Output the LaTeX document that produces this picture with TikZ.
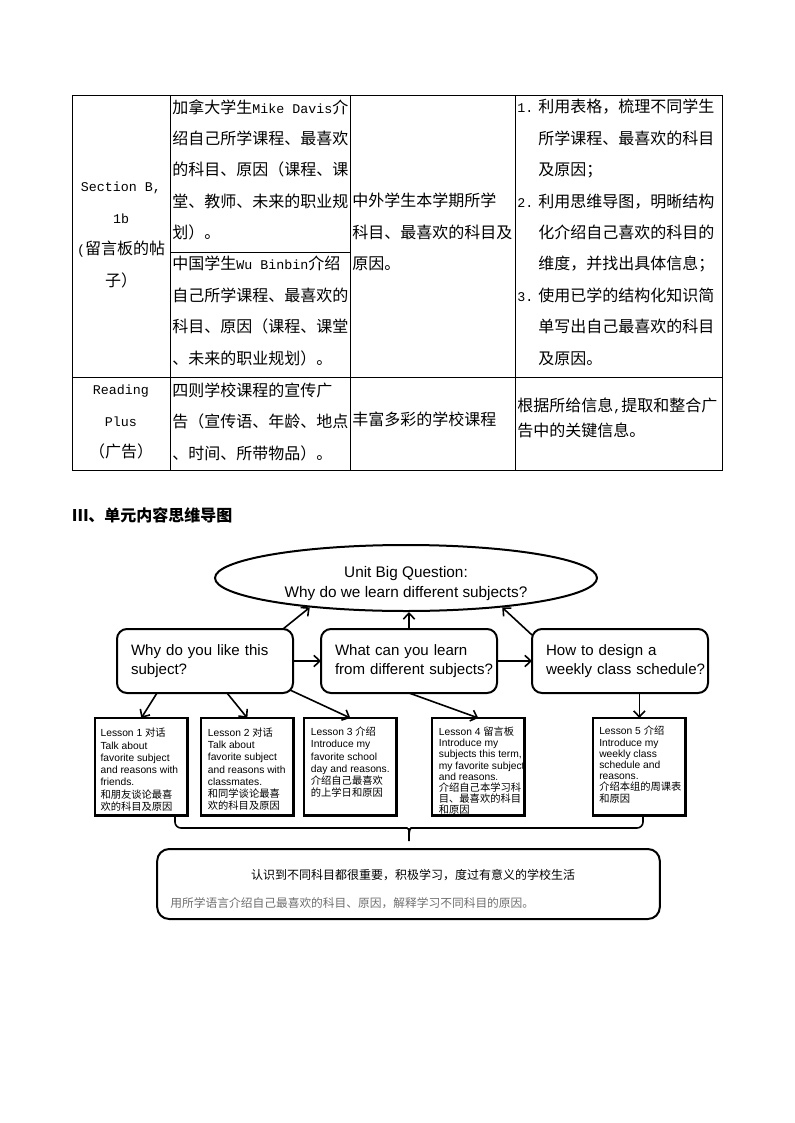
\documentclass[tikz,border=0pt]{standalone}
\usepackage{fontspec}
\usepackage{xcolor}
\usepackage{tikz}
\usetikzlibrary{arrows.meta, positioning, shapes.geometric}

\setmainfont{Liberation Sans}
\newfontfamily\cjk{Noto Sans CJK SC}
\newfontfamily\tmono{Liberation Mono}
\newcommand{\tabmono}[1]{{\tmono\fontsize{10}{23.55}\selectfont #1}}

\definecolor{notegray}{HTML}{6E6E6E}

\begin{document}
\begin{tikzpicture}[
    x=0.75pt, y=-0.75pt,
    grid/.style={line width=0.75pt},
    cell/.style={anchor=north west, inner sep=0pt, align=left, font=\cjk\fontsize{12}{23.55}\selectfont},
    headcell/.style={cell, anchor=north, align=center},
    bigq/.style={ellipse, draw, line width=1.5pt, minimum width=286.5pt, minimum height=49.5pt, inner sep=0pt},
    bigqtext/.style={inner sep=0pt, align=center, font=\fontsize{11.5}{15}\selectfont},
    question/.style={draw, line width=1.5pt, rounded corners=7.5pt, minimum width=132pt, minimum height=48pt, text width=111pt, inner xsep=10.5pt, outer sep=0pt, align=left, font=\fontsize{11.3}{14.25}\selectfont},
    lesson/.style={draw, line width=1.8pt, anchor=north west, minimum width=69.5pt, minimum height=73pt, inner sep=0pt, outer sep=0pt},
    lessontext/.style={inner sep=0pt, align=left, font=\fontsize{7.7}{9.2}\selectfont},
    final/.style={draw, line width=1.5pt, rounded corners=9pt, minimum width=377pt, minimum height=52.5pt, inner sep=0pt},
    arrow/.style={-{Straight Barb[length=4.5pt, width=8.5pt]}, line width=1.2pt},
    bracket/.style={line width=1.2pt, rounded corners=4.5pt},
]
\useasboundingbox (0,0) rectangle (794,1123);

% === Table ===
\draw[grid] (72,96) rectangle (722,470);
\draw[grid] (170,96) -- (170,470);
\draw[grid] (350,96) -- (350,470);
\draw[grid] (515,96) -- (515,470);
\draw[grid] (72,377) -- (722,377);
\draw[grid] (170,252) -- (350,252);

\node[headcell] (secb) at (121,182) {\tabmono{Section B,}\\\tabmono{1b}\\\tabmono{(}留言板的帖\\子）};
\node[cell] (mike) at (172,99) {加拿大学生\tabmono{Mike Davis}介\\绍自己所学课程、最喜欢\\的科目、原因（课程、课\\堂、教师、未来的职业规\\划）。};
\node[cell] (wubin) at (172,256) {中国学生\tabmono{Wu Binbin}介绍\\自己所学课程、最喜欢的\\科目、原因（课程、课堂\\、未来的职业规划）。};
\node[cell] (theme) at (352,193) {中外学生本学期所学\\科目、最喜欢的科目及\\原因。};
\node[cell] (goals) at (517,99) {\tabmono{1.}\hspace*{3.75pt}利用表格，梳理不同学生\\\hspace*{15.75pt}所学课程、最喜欢的科目\\\hspace*{15.75pt}及原因；\\\tabmono{2.}\hspace*{3.75pt}利用思维导图，明晰结构\\\hspace*{15.75pt}化介绍自己喜欢的科目的\\\hspace*{15.75pt}维度，并找出具体信息；\\\tabmono{3.}\hspace*{3.75pt}使用已学的结构化知识简\\\hspace*{15.75pt}单写出自己最喜欢的科目\\\hspace*{15.75pt}及原因。};

\node[headcell] (readp) at (121,385) {\tabmono{Reading}\\\tabmono{Plus}\\（广告）};
\node[cell] (ads) at (172,382.5) {四则学校课程的宣传广\\告（宣传语、年龄、地点\\、时间、所带物品）。};
\node[cell] (rich) at (352,411.5) {丰富多彩的学校课程};
\node[cell, font=\cjk\fontsize{12}{18.5}\selectfont] (keyinfo) at (517,397.5) {根据所给信息\tabmono{,}提取和整合广\\告中的关键信息。};

% === Mind map ===
\node[anchor=west, inner sep=0pt, font=\cjk\bfseries\fontsize{12}{14}\selectfont] (sec3) at (72,515) {Ⅲ、单元内容思维导图};

\node[bigq] (bigq) at (406,578) {};
\node[bigqtext] (bigqt) at (406,584) {Unit Big Question:\\Why do we learn different subjects?};

\node[question] (why) at (205,661) {Why do you like this\\subject?};
\node[question, right=21pt of why] (what) {What can you learn\\\mbox{from different subjects?}};
\node[question, right=26.25pt of what] (how) {How to design a\\\mbox{weekly class schedule?}};

\draw[arrow] ([xshift=-7.5pt]why.north east) -- (bigq.197);
\draw[arrow] (what.north) -- (what.north |- bigq.south);
\draw[arrow] ([yshift=-4.5pt]how.north west) -- (bigq.343);
\draw[arrow] (why) -- (what);
\draw[arrow] (what) -- (how);

\node[lesson] (l1) at (95,718) {};
\node[lesson] (l2) at (201,718) {};
\node[lesson] (l3) at (304,718) {};
\node[lesson] (l4) at (432,718) {};
\node[lesson] (l5) at (593,718) {};

\node[lessontext, below right=7.5pt and 4pt of l1.north west] (l1t) {Lesson 1 {\cjk 对话}\\Talk about\\favorite subject\\and reasons with\\friends.\\{\cjk 和朋友谈论最喜}\\{\cjk 欢的科目及原因}};
\node[lessontext, below right=7pt and 5pt of l2.north west] (l2t) {Lesson 2 {\cjk 对话}\\Talk about\\favorite subject\\and reasons with\\classmates.\\{\cjk 和同学谈论最喜}\\{\cjk 欢的科目及原因}};
\node[lessontext, below right=6.5pt and 5pt of l3.north west] (l3t) {Lesson 3 {\cjk 介绍}\\Introduce my\\favorite school\\day and reasons.\\{\cjk 介绍自己最喜欢}\\{\cjk 的上学日和原因}};
\node[lessontext, font=\fontsize{7.7}{8.4}\selectfont, below right=6.5pt and 5pt of l4.north west] (l4t) {Lesson 4 {\cjk 留言板}\\Introduce my\\subjects this term,\\my favorite subject\\and reasons.\\{\cjk 介绍自己本学习科}\\{\cjk 目、最喜欢的科目}\\{\cjk 和原因}};
\node[lessontext, font=\fontsize{7.7}{8.4}\selectfont, below right=6pt and 4.5pt of l5.north west] (l5t) {Lesson 5 {\cjk 介绍}\\Introduce my\\weekly class\\schedule and\\reasons.\\{\cjk 介绍本组的周课表}\\{\cjk 和原因}};

\draw[arrow] ([xshift=-36pt]why.south) -- (l1.north);
\draw[arrow] ([xshift=16.5pt]why.south) -- (l2.north);
\draw[arrow] ([xshift=-2.25pt, yshift=2.25pt]why.south east) -- (l3.north);
\draw[arrow] (what.south) -- (l4.north);
\draw[arrow] (how.south -| l5.north) -- (l5.north);

% === Summary ===
\coordinate (bl) at (175,816);
\coordinate (br) at (643,816);
\coordinate (btip) at (409,841);
\draw[bracket] (bl) |- (401,828) .. controls (407,828) and (409,830) .. (409,835) -- (btip);
\draw[bracket] (br) |- (417,828) .. controls (411,828) and (409,830) .. (409,835);

\node[final] (bot) at (408.5,884) {};
\node[inner sep=0pt, below=15.5pt of bot.north, xshift=3.4pt, font=\cjk\fontsize{9}{11}\selectfont] (goal) {认识到不同科目都很重要，积极学习，度过有意义的学校生活};
\node[inner sep=0pt, above right=8.6pt and 10.5pt of bot.south west, text=notegray, font=\cjk\fontsize{8.8}{11}\selectfont] (target) {用所学语言介绍自己最喜欢的科目、原因，解释学习不同科目的原因。};

\end{tikzpicture}
\end{document}
